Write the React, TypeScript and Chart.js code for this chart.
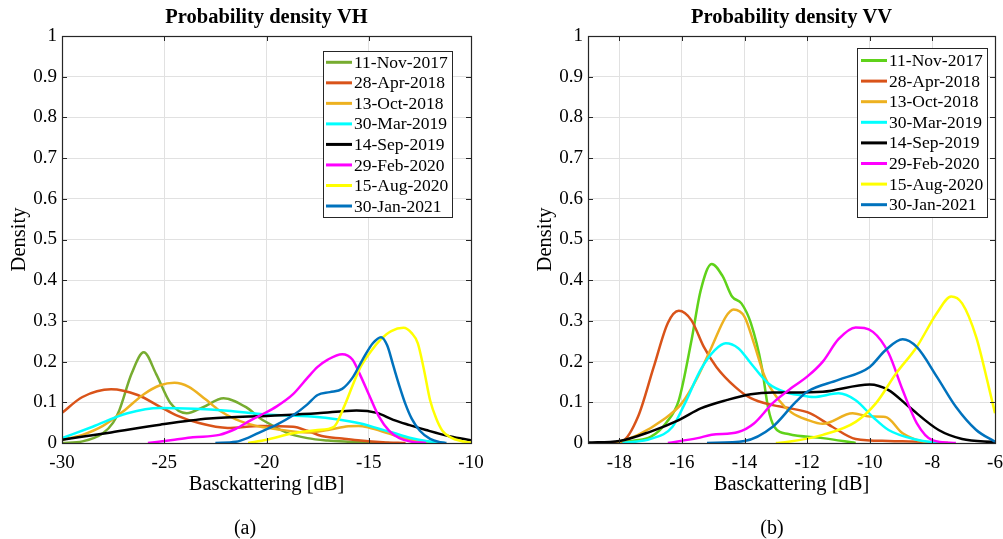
import React, { useEffect, useRef } from 'react';
import { Chart, registerables } from 'chart.js';

Chart.register(...registerables);

// ---------- labels & ticks ----------
const seriesLabels = ['11-Nov-2017', '28-Apr-2018', '13-Oct-2018', '30-Mar-2019', '14-Sep-2019', '29-Feb-2020', '15-Aug-2020', '30-Jan-2021'];
const vhColors = ['#77AC30', '#D95319', '#EDB120', '#00FFFF', '#000000', '#FF00FF', '#FFFF00', '#0072BD'];
const vvColors = ['#5FD21A', '#D95319', '#EDB120', '#00FFFF', '#000000', '#FF00FF', '#FFFF00', '#0072BD'];
const yTicks = [0, 0.1, 0.2, 0.3, 0.4, 0.5, 0.6, 0.7, 0.8, 0.9, 1];
const yTickLabels = ['0', '0.1', '0.2', '0.3', '0.4', '0.5', '0.6', '0.7', '0.8', '0.9', '1'];
const vhXTicks = [-30, -25, -20, -15, -10];
const vvXTicks = [-18, -16, -14, -12, -10, -8, -6];

// ---------- VH series ----------
const vhX1 = [-30, -29, -28, -27.5, -27.2, -26.6, -26.0, -25.4, -24.7, -23.9, -23.1, -22.1, -21.0, -20.3, -19.6, -19.0, -18.0, -17.0, -16.0, -15.0, -14.0];
const vhY1 = [0, 0.004, 0.024, 0.05, 0.08, 0.17, 0.223, 0.17, 0.098, 0.073, 0.088, 0.11, 0.088, 0.06, 0.04, 0.025, 0.012, 0.006, 0.003, 0.001, 0];
const vhX2 = [-30, -29, -27.6, -26.3, -25.2, -24.4, -23.3, -21.9, -20.3, -18.7, -18.0, -17.3, -16.3, -15.4, -14.3, -13.2];
const vhY2 = [0.074, 0.113, 0.132, 0.118, 0.089, 0.068, 0.049, 0.037, 0.042, 0.04, 0.03, 0.017, 0.011, 0.006, 0.002, 0];
const vhX3 = [-30, -29, -28, -27, -26, -25.2, -24.5, -23.8, -23.0, -22.3, -21.5, -20.5, -19.5, -18.0, -17.0, -16.0, -15.5, -15.0, -14.0, -13.0, -12.0, -11.5];
const vhY3 = [0.008, 0.02, 0.042, 0.078, 0.12, 0.142, 0.148, 0.138, 0.108, 0.08, 0.058, 0.042, 0.034, 0.026, 0.032, 0.041, 0.042, 0.038, 0.023, 0.008, 0.002, 0];
const vhX4 = [-30, -28.5, -26.8, -25.2, -23.5, -21.9, -20, -17.8, -16.5, -15.4, -14.5, -13.8, -13, -12.2, -11.3];
const vhY4 = [0.012, 0.04, 0.073, 0.086, 0.084, 0.079, 0.07, 0.065, 0.058, 0.048, 0.035, 0.025, 0.013, 0.005, 0];
const vhX5 = [-30, -27.6, -25.2, -22.8, -19.8, -17.5, -15.6, -14.6, -13.8, -13.0, -12.2, -11.0, -10.0];
const vhY5 = [0.008, 0.026, 0.045, 0.06, 0.067, 0.073, 0.08, 0.074, 0.057, 0.044, 0.032, 0.016, 0.007];
const vhX6 = [-25.8, -24.5, -23.6, -22.3, -21.5, -20.8, -20.3, -19.5, -18.7, -18.0, -17.5, -17.0, -16.3, -15.8, -15.4, -15.0, -14.5, -14.0, -13.5, -13.0, -12.2];
const vhY6 = [0, 0.008, 0.014, 0.02, 0.035, 0.055, 0.068, 0.09, 0.12, 0.16, 0.187, 0.205, 0.218, 0.205, 0.165, 0.12, 0.065, 0.03, 0.012, 0.004, 0];
const vhX7 = [-20.9, -20, -18.7, -17.5, -16.7, -16.2, -15.8, -15.4, -14.9, -14.4, -13.9, -13.3, -12.9, -12.6, -12.3, -12.0, -11.7, -11.4, -11, -10.5, -10];
const vhY7 = [0, 0.008, 0.024, 0.032, 0.04, 0.09, 0.14, 0.187, 0.225, 0.255, 0.275, 0.283, 0.27, 0.245, 0.18, 0.105, 0.06, 0.03, 0.014, 0.005, 0.001];
const vhX8 = [-22.5, -21.5, -20.8, -20.3, -19.5, -18.7, -18.0, -17.5, -16.9, -16.3, -15.8, -15.3, -14.8, -14.4, -14.1, -13.8, -13.5, -13.2, -12.9, -12.5, -12, -11.5, -11.2];
const vhY8 = [0, 0.003, 0.015, 0.027, 0.045, 0.068, 0.095, 0.118, 0.125, 0.133, 0.16, 0.205, 0.245, 0.26, 0.24, 0.19, 0.14, 0.095, 0.06, 0.03, 0.01, 0.002, 0];

// ---------- VV series ----------
const vvX1 = [-18.3, -17.5, -17.0, -16.5, -16.1, -15.7, -15.4, -15.05, -14.7, -14.4, -14.1, -13.8, -13.45, -13.25, -13.05, -12.6, -11.5, -10.45];
const vvY1 = [0, 0.006, 0.015, 0.05, 0.105, 0.25, 0.375, 0.44, 0.41, 0.36, 0.343, 0.295, 0.187, 0.088, 0.04, 0.022, 0.012, 0];
const vvX2 = [-18.5, -17.9, -17.4, -16.9, -16.45, -16.1, -15.7, -15.3, -14.9, -14.3, -13.8, -13.1, -12.6, -11.9, -11.2, -10.45, -9.4, -8.3, -7.5];
const vvY2 = [0, 0.005, 0.065, 0.187, 0.295, 0.325, 0.302, 0.236, 0.187, 0.138, 0.11, 0.093, 0.086, 0.073, 0.04, 0.01, 0.005, 0.003, 0];
const vvX3 = [-18.1, -17.4, -16.6, -16.0, -15.5, -15.05, -14.6, -14.35, -14.0, -13.7, -13.35, -12.9, -12.5, -12.0, -11.5, -10.55, -10.0, -9.5, -8.95, -8.2, -7.8];
const vvY3 = [0, 0.02, 0.057, 0.098, 0.162, 0.236, 0.31, 0.328, 0.31, 0.245, 0.162, 0.105, 0.075, 0.057, 0.047, 0.073, 0.065, 0.064, 0.024, 0.002, 0];
const vvX4 = [-17.9, -17.0, -16.3, -15.9, -15.4, -14.95, -14.6, -14.2, -13.8, -13.25, -12.7, -12.2, -11.8, -11.0, -10.45, -9.9, -9.4, -8.5, -7.8];
const vvY4 = [0, 0.01, 0.04, 0.098, 0.18, 0.228, 0.245, 0.233, 0.196, 0.147, 0.125, 0.117, 0.113, 0.122, 0.105, 0.064, 0.032, 0.008, 0];
const vvX5 = [-19, -18, -17, -16.1, -15.4, -14.55, -13.8, -13.1, -12.5, -11.5, -10.0, -9.4, -8.75, -7.8, -7.05, -6];
const vvY5 = [0.001, 0.005, 0.028, 0.056, 0.085, 0.106, 0.12, 0.124, 0.124, 0.126, 0.144, 0.13, 0.089, 0.032, 0.01, 0.002];
const vvX6 = [-16.45, -15.5, -15.05, -14.2, -13.7, -13.1, -12.45, -12.0, -11.5, -11.0, -10.45, -9.9, -9.4, -8.95, -8.5, -8.0, -7.25];
const vvY6 = [0, 0.012, 0.02, 0.027, 0.048, 0.098, 0.138, 0.163, 0.2, 0.255, 0.284, 0.273, 0.221, 0.13, 0.049, 0.007, 0];
const vvX7 = [-13.0, -12.6, -11.5, -10.45, -9.8, -9.15, -8.5, -7.85, -7.4, -7.05, -6.6, -6.2, -6.0];
const vvY7 = [0, 0.003, 0.02, 0.052, 0.098, 0.172, 0.236, 0.32, 0.36, 0.343, 0.26, 0.138, 0.073];
const vvX8 = [-15.2, -14.0, -13.1, -12.4, -12.0, -11.0, -10.0, -9.5, -8.95, -8.5, -7.85, -7.25, -6.6, -6.0];
const vvY8 = [0, 0.005, 0.04, 0.098, 0.126, 0.155, 0.187, 0.228, 0.255, 0.236, 0.162, 0.089, 0.032, 0.003];

const vhXs = [vhX1, vhX2, vhX3, vhX4, vhX5, vhX6, vhX7, vhX8];
const vhYs = [vhY1, vhY2, vhY3, vhY4, vhY5, vhY6, vhY7, vhY8];
const vvXs = [vvX1, vvX2, vvX3, vvX4, vvX5, vvX6, vvX7, vvX8];
const vvYs = [vvY1, vvY2, vvY3, vvY4, vvY5, vvY6, vvY7, vvY8];

const FONT = "'Liberation Serif', 'Times New Roman', serif";
const GRID = '#e1e1e1';

const framePlugin = {
  id: 'matlabFrame',
  afterDraw(chart: any, _args: any, opts: any) {
    const { ctx, chartArea: a, scales } = chart;
    ctx.save();
    // inward ticks
    ctx.strokeStyle = '#262626';
    ctx.lineWidth = 1;
    const tl = 5;
    ctx.beginPath();
    scales.y.ticks.forEach((t: any) => {
      const py = Math.round(scales.y.getPixelForValue(t.value)) + 0.5;
      ctx.moveTo(a.left, py); ctx.lineTo(a.left + tl, py);
      ctx.moveTo(a.right, py); ctx.lineTo(a.right - tl, py);
    });
    scales.x.ticks.forEach((t: any) => {
      const px = Math.round(scales.x.getPixelForValue(t.value)) + 0.5;
      ctx.moveTo(px, a.bottom); ctx.lineTo(px, a.bottom - tl);
      ctx.moveTo(px, a.top); ctx.lineTo(px, a.top + tl);
    });
    ctx.stroke();
    // box
    ctx.strokeStyle = '#262626';
    ctx.lineWidth = 1.2;
    ctx.strokeRect(Math.round(a.left) + 0.5, Math.round(a.top) + 0.5, Math.round(a.right - a.left), Math.round(a.bottom - a.top));
    // legend
    const L = opts.box;
    ctx.fillStyle = '#ffffff';
    ctx.fillRect(L.left, L.top, L.width, L.height);
    ctx.lineWidth = 1;
    ctx.strokeStyle = '#262626';
    ctx.strokeRect(L.left + 0.5, L.top + 0.5, L.width, L.height);
    ctx.font = `17.5px ${FONT}`;
    ctx.textBaseline = 'middle';
    ctx.textAlign = 'left';
    chart.data.datasets.forEach((ds: any, i: number) => {
      const cy = L.firstRow + i * L.rowStep;
      ctx.strokeStyle = ds.borderColor;
      ctx.lineWidth = 3;
      ctx.beginPath();
      ctx.moveTo(L.lineX0, cy); ctx.lineTo(L.lineX1, cy);
      ctx.stroke();
      ctx.fillStyle = '#000';
      ctx.fillText(ds.label, L.textX, cy + 1);
    });
    ctx.restore();
  },
};

type PanelProps = {
  title: string;
  xs: number[][];
  ys: number[][];
  colors: string[];
  xMin: number;
  xMax: number;
  xTicks: number[];
  padLeft: number;
  padRight: number;
  width: number;
  box: any;
  left: number;
};

function Panel(p: PanelProps) {
  const ref = useRef<HTMLCanvasElement | null>(null);
  useEffect(() => {
    if (!ref.current) return;
    const n = seriesLabels.length;
    const datasets = seriesLabels.map((label, i) => ({
      label,
      data: p.xs[i].map((x, j) => ({ x, y: p.ys[i][j] })),
      borderColor: p.colors[i],
      backgroundColor: p.colors[i],
      borderWidth: 2.5,
      pointRadius: 0,
      fill: false,
      cubicInterpolationMode: 'monotone' as const,
      order: n - i,
    }));
    const tickFont = { family: FONT, size: 19 };
    const chart = new Chart(ref.current, {
      type: 'line',
      data: { datasets },
      plugins: [framePlugin],
      options: {
        animation: false,
        responsive: false,
        events: [],
        layout: { padding: { left: p.padLeft, right: p.padRight, top: 0, bottom: 36 } },
        plugins: {
          legend: { display: false },
          tooltip: { enabled: false },
          title: {
            display: true,
            text: p.title,
            fullSize: false,
            color: '#000',
            font: { family: FONT, size: 20.5, weight: 'bold' },
            padding: { top: 5.7, bottom: 5.7 },
          },
          matlabFrame: { box: p.box },
        } as any,
        scales: {
          x: {
            type: 'linear',
            min: p.xMin,
            max: p.xMax,
            afterBuildTicks: (s: any) => { s.ticks = p.xTicks.map((v) => ({ value: v })); },
            afterFit: (s: any) => { s.height = 60; s.paddingLeft = 0; s.paddingRight = 0; },
            ticks: { font: tickFont, color: '#000', padding: 9, maxRotation: 0 },
            grid: { color: GRID, drawTicks: false, lineWidth: 1 },
            border: { display: false },
            title: { display: true, text: 'Basckattering [dB]', color: '#000', font: { family: FONT, size: 20.5 }, padding: { top: 0, bottom: 5.6 } },
          },
          y: {
            type: 'linear',
            min: 0,
            max: 1,
            afterBuildTicks: (s: any) => { s.ticks = yTicks.map((v) => ({ value: v })); },
            afterFit: (s: any) => { s.width = 62; s.paddingTop = 0; s.paddingBottom = 0; },
            ticks: {
              font: tickFont, color: '#000', padding: 5,
              callback: (_v: any, idx: number) => yTickLabels[idx],
            },
            grid: { color: GRID, drawTicks: false, lineWidth: 1 },
            border: { display: false },
            title: { display: true, text: 'Density', color: '#000', font: { family: FONT, size: 20.5 }, padding: { top: 7, bottom: 0 } },
          },
        },
      } as any,
    });
    return () => chart.destroy();
  }, []);
  return (
    <canvas
      ref={ref}
      width={p.width}
      height={539}
      style={{ position: 'absolute', left: p.left, top: 0, width: p.width, height: 539 }}
    />
  );
}

export default function App() {
  const capStyle: React.CSSProperties = {
    position: 'absolute', top: 514, width: 80, textAlign: 'center',
    fontFamily: FONT, fontSize: 20, lineHeight: '26px', color: '#000',
  };
  return (
    <div style={{ position: 'fixed', left: 0, top: 0, width: 1003, height: 539, background: '#fff', overflow: 'hidden' }}>
      <Panel
        title="Probability density VH"
        xs={vhXs} ys={vhYs} colors={vhColors}
        xMin={-30} xMax={-10} xTicks={vhXTicks}
        padLeft={0} padRight={29} width={500} left={0}
        box={{ left: 323, top: 51, width: 129, height: 166, firstRow: 62.3, rowStep: 20.53, lineX0: 326, lineX1: 352, textX: 354 }}
      />
      <Panel
        title="Probability density VV"
        xs={vvXs} ys={vvYs} colors={vvColors}
        xMin={-19} xMax={-6} xTicks={vvXTicks}
        padLeft={26} padRight={8} width={503} left={500}
        box={{ left: 357, top: 48, width: 130, height: 169, firstRow: 60.5, rowStep: 20.6, lineX0: 361, lineX1: 387, textX: 389 }}
      />
      <div style={{ ...capStyle, left: 205 }}>(a)</div>
      <div style={{ ...capStyle, left: 732 }}>(b)</div>
    </div>
  );
}
